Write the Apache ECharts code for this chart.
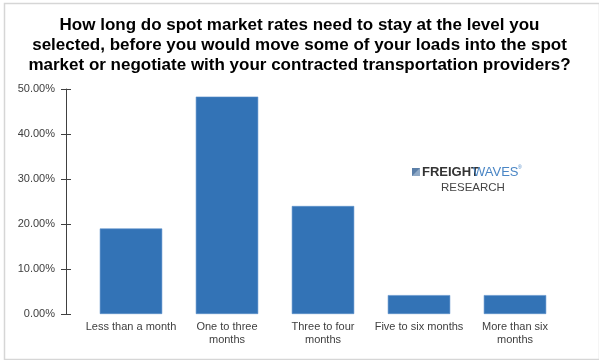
<!DOCTYPE html>
<html><head><meta charset="utf-8">
<script src="https://cdn.jsdelivr.net/npm/echarts@6/dist/echarts.min.js"></script>
<style>html,body{margin:0;padding:0;background:#fff}#c{width:599px;height:360px}</style>
</head><body><div id="c"></div>
<script>
const categories = ['Less than a month', 'One to three\nmonths', 'Three to four\nmonths', 'Five to six months', 'More than six\nmonths'];
const values = [19.0, 48.3, 24.0, 4.2, 4.2];
const titleText = 'How long do spot market rates need to stay at the level you\nselected, before you would move some of your loads into the spot\nmarket or negotiate with your contracted transportation providers?';
const yTicks = [0, 10, 20, 30, 40, 50];

const chart = echarts.init(document.getElementById('c'), null, {renderer: 'canvas'});
const fmt = v => v.toFixed(2) + '%';
chart.setOption({
  animation: false,
  backgroundColor: '#fff',
  title: {
    text: titleText, left: 'center', top: 10,
    textStyle: {fontFamily: 'Liberation Sans', fontWeight: 'bold', fontSize: 17, lineHeight: 20, color: '#000'}
  },
  grid: {left: 83, right: 36, top: 89, bottom: 46, containLabel: false},
  xAxis: {
    type: 'category', data: categories,
    axisLine: {show: false}, axisTick: {show: false},
    axisLabel: {fontFamily: 'Liberation Sans', fontSize: 11, lineHeight: 13, color: '#404040', margin: 6, interval: 0}
  },
  yAxis: [{
    type: 'value', min: 0, max: yTicks[yTicks.length - 1], interval: 10, offset: 17,
    axisLine: {show: true, lineStyle: {color: '#404040', width: 1}},
    axisTick: {show: true, length: 5, lineStyle: {color: '#404040'}},
    splitLine: {show: false},
    axisLabel: {formatter: fmt, fontFamily: 'Liberation Sans', fontSize: 11, color: '#404040', margin: 11}
  }, {
    type: 'value', min: 0, max: yTicks[yTicks.length - 1], interval: 10, offset: 17, position: 'left',
    axisLine: {show: false},
    axisTick: {show: true, inside: true, length: 5, lineStyle: {color: '#404040'}},
    splitLine: {show: false}, axisLabel: {show: false}
  }],
  series: [{
    type: 'bar', data: values, barWidth: '65%', yAxisIndex: 0,
    itemStyle: {color: '#3373b6', borderColor: '#5a8fc9', borderWidth: 0.6}
  }],
  graphic: [
    {type: 'rect', left: 2, top: 1, shape: {width: 595, height: 356},
     style: {fill: 'none', stroke: '#d6d6d6', lineWidth: 1.5}, silent: true},
    {type: 'group', left: 412, top: 165, children: [
      {type: 'rect', shape: {x: 0, y: 2, width: 8, height: 8}, style: {fill: '#5b7fa8'}},
      {type: 'polygon', shape: {points: [[0, 10], [8, 2], [8, 10]]}, style: {fill: '#8fa9c6'}},
      {type: 'text', x: 10, y: 0, style: {text: 'FREIGHT', font: '900 13px "Liberation Sans"', fill: '#333'}},
      {type: 'text', x: 61, y: 0, style: {text: 'WAVES', font: '13px "Liberation Sans"', fill: '#4a86c5'}},
      {type: 'text', x: 106, y: -1, style: {text: '®', font: '5px "Liberation Sans"', fill: '#4a86c5'}},
      {type: 'text', x: 29, y: 16, style: {text: 'RESEARCH', font: '11.5px "Liberation Sans"', fill: '#444'}}
    ]}
  ]
});
</script></body></html>
